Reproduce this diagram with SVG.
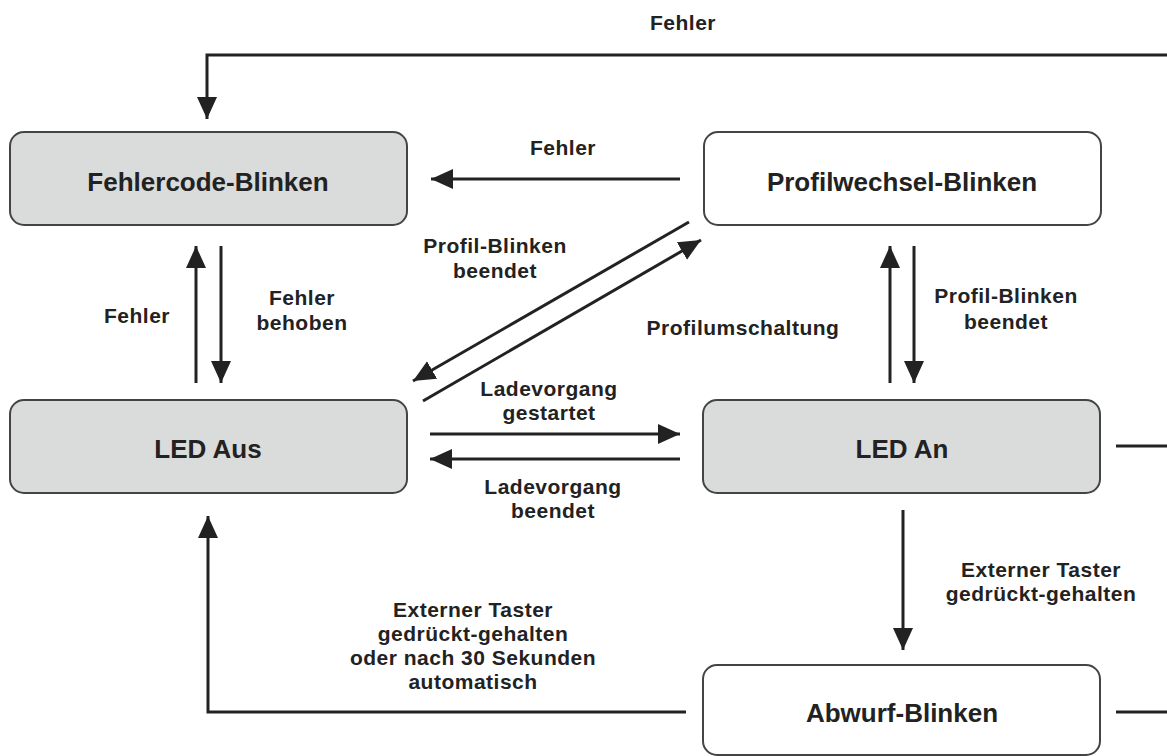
<svg xmlns="http://www.w3.org/2000/svg" width="1167" height="756" viewBox="0 0 1167 756">
<style>
.box{stroke:#444;stroke-width:2}
.g{fill:#dadbdb}
.w{fill:#fff}
.bt{font-family:"Liberation Sans",Arial,sans-serif;font-weight:bold;font-size:26px;fill:#222;text-anchor:middle}
.lt{font-family:"Liberation Sans",Arial,sans-serif;font-weight:bold;font-size:21px;letter-spacing:0.5px;fill:#222;text-anchor:middle}
.c{stroke:#222;stroke-width:3;fill:none}
</style>
<defs>
<marker id="ah" markerUnits="userSpaceOnUse" markerWidth="24" markerHeight="22" refX="22" refY="10" orient="auto">
<path d="M0,0 L22,10 L0,20 Z" fill="#222"/>
</marker>
</defs>
<rect width="1167" height="756" fill="#fff"/>
<g id="connectors">
<polyline class="c" points="1167,55 207,55 207,119" marker-end="url(#ah)"/>
<line class="c" x1="680" y1="179" x2="431" y2="179" marker-end="url(#ah)"/>
<line class="c" x1="196" y1="383" x2="196" y2="246" marker-end="url(#ah)"/>
<line class="c" x1="221" y1="246" x2="221" y2="383" marker-end="url(#ah)"/>
<line class="c" x1="689" y1="222" x2="413" y2="381" marker-end="url(#ah)"/>
<line class="c" x1="423" y1="401" x2="701" y2="240" marker-end="url(#ah)"/>
<line class="c" x1="890" y1="383" x2="890" y2="246" marker-end="url(#ah)"/>
<line class="c" x1="914" y1="246" x2="914" y2="383" marker-end="url(#ah)"/>
<line class="c" x1="430" y1="434" x2="680" y2="434" marker-end="url(#ah)"/>
<line class="c" x1="680" y1="459" x2="430" y2="459" marker-end="url(#ah)"/>
<line class="c" x1="903" y1="510" x2="903" y2="650" marker-end="url(#ah)"/>
<polyline class="c" points="686,712 208,712 208,516" marker-end="url(#ah)"/>
<line class="c" x1="1116" y1="446" x2="1167" y2="446"/>
<line class="c" x1="1116" y1="712" x2="1167" y2="712"/>
<text class="lt" x="683" y="30">Fehler</text>
<text class="lt" x="563" y="155">Fehler</text>
<text class="lt" x="495" y="253">Profil-Blinken</text>
<text class="lt" x="495" y="278">beendet</text>
<text class="lt" x="137" y="323">Fehler</text>
<text class="lt" x="302" y="305">Fehler</text>
<text class="lt" x="302" y="330">behoben</text>
<text class="lt" x="743" y="335">Profilumschaltung</text>
<text class="lt" x="1006" y="303">Profil-Blinken</text>
<text class="lt" x="1006" y="329">beendet</text>
<text class="lt" x="549" y="396">Ladevorgang</text>
<text class="lt" x="549" y="420">gestartet</text>
<text class="lt" x="553" y="494">Ladevorgang</text>
<text class="lt" x="553" y="518">beendet</text>
<text class="lt" x="1041" y="577">Externer Taster</text>
<text class="lt" x="1041" y="601">gedrückt-gehalten</text>
<text class="lt" x="473" y="617">Externer Taster</text>
<text class="lt" x="473" y="641">gedrückt-gehalten</text>
<text class="lt" x="473" y="665">oder nach 30 Sekunden</text>
<text class="lt" x="473" y="689">automatisch</text>
</g>
<g id="fehlercode">
<rect class="box g" x="10" y="132" width="397" height="93" rx="14"/>
<text class="bt" x="208" y="191">Fehlercode-Blinken</text>
</g>
<g id="profilwechsel">
<rect class="box w" x="704" y="132" width="397" height="93" rx="14"/>
<text class="bt" x="902" y="191">Profilwechsel-Blinken</text>
</g>
<g id="ledaus">
<rect class="box g" x="10" y="400" width="397" height="93" rx="14"/>
<text class="bt" x="208" y="458">LED Aus</text>
</g>
<g id="ledan">
<rect class="box g" x="703" y="400" width="397" height="93" rx="14"/>
<text class="bt" x="902" y="458">LED An</text>
</g>
<g id="abwurf">
<rect class="box w" x="703" y="665" width="397" height="90" rx="14"/>
<text class="bt" x="902" y="722">Abwurf-Blinken</text>
</g>
</svg>
